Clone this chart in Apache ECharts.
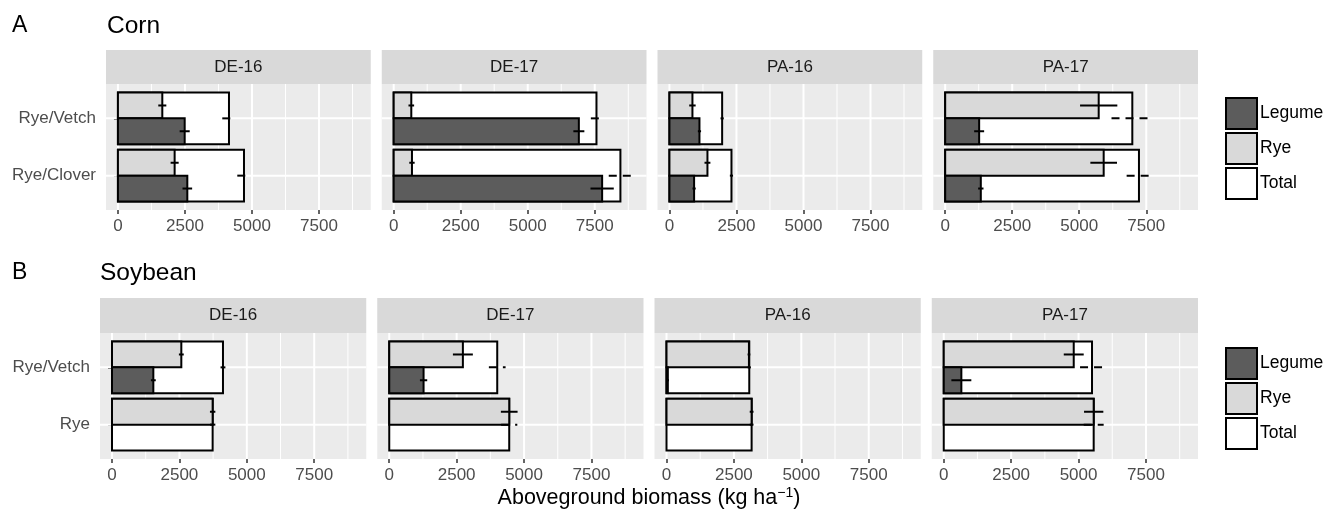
<!DOCTYPE html>
<html>
<head>
<meta charset="utf-8">
<script src="https://cdn.jsdelivr.net/npm/echarts@6/dist/echarts.min.js"></script>
<style>
  html, body { margin: 0; background: #fff; }
  #chart { width: 1325px; height: 517px; }
</style>
</head>
<body>
<div id="chart"></div>
<script>
// facet columns and the categories of each crop row
const sites = ['DE-16', 'DE-17', 'PA-16', 'PA-17'];
const cornCats = ['Rye/Vetch', 'Rye/Clover'];
const soyCats = ['Rye/Vetch', 'Rye'];

// biomass in kg/ha, one pair per site (first category, second category); *Se = error half-width
const cornRye = [[1655, 2115], [657, 682], [858, 1418], [5726, 5912]];
const cornRyeSe = [[150, 150], [105, 100], [120, 110], [695, 497]];
const cornLegume = [[2490, 2588], [6907, 7775], [1120, 920], [1267, 1329]];
const cornLegumeSe = [[187, 180], [205, 434], [60, 60], [186, 100]];
const cornTotal = [[4142, 4702], [7564, 8457], [1966, 2314], [6980, 7228]];
const cornTotalSe = [[250, 250], [210, 435], [60, 60], [776, 460]];

const soyRye = [[2571, 3733], [2731, 4450], [3058, 3157], [4821, 5561]];
const soyRyeSe = [[90, 100], [370, 310], [50, 70], [370, 358]];
const soyLegume = [[1533, 0], [1273, 0], [50, 0], [653, 0]];
const soyLegumeSe = [[90, 0], [135, 0], [40, 0], [370, 0]];
const soyTotal = [[4116, 3733], [4005, 4450], [3070, 3157], [5499, 5561]];
const soyTotalSe = [[90, 100], [310, 300], [60, 70], [444, 370]];

const xTicks = [0, 2500, 5000, 7500];
const xMinor = [1250, 3750, 6250, 8750];

const FONT = 'Liberation Sans, Arial, Helvetica, sans-serif';
const COLORS = { Legume: '#5C5C5C', Rye: '#D9D9D9', Total: '#FFFFFF' };

const rows = [
  { title: 'A', crop: 'Corn', cats: cornCats,
    rye: cornRye, ryeSe: cornRyeSe, legume: cornLegume, legumeSe: cornLegumeSe,
    total: cornTotal, totalSe: cornTotalSe,
    lefts: [106, 381.75, 657.5, 933.25], width: 264.75, stripTop: 50, top: 84, height: 126,
    titleY: 26, cropX: 107, legendTop: 97 },
  { title: 'B', crop: 'Soybean', cats: soyCats,
    rye: soyRye, ryeSe: soyRyeSe, legume: soyLegume, legumeSe: soyLegumeSe,
    total: soyTotal, totalSe: soyTotalSe,
    lefts: [100, 377.25, 654.5, 931.75], width: 266.25, stripTop: 298, top: 333, height: 126,
    titleY: 273, cropX: 100, legendTop: 347 },
];

function gridLines(params, api) {
  const cs = params.coordSys;
  const kind = api.value(2);
  if (kind === 2) {
    const y = api.coord([0, api.value(1)])[1];
    return { type: 'line', shape: { x1: cs.x, y1: y, x2: cs.x + cs.width, y2: y },
      style: { stroke: '#fff', lineWidth: 2 } };
  }
  const x = api.coord([api.value(0), 1])[0];
  return { type: 'line', shape: { x1: x, y1: cs.y, x2: x, y2: cs.y + cs.height },
    style: { stroke: '#fff', lineWidth: kind === 0 ? 2 : 1 } };
}

function barPart(part) {
  return (params, api) => {
    const c = api.value(1);
    const lo = part === 'bottom' ? c : c - 0.45;
    const hi = part === 'top' ? c : c + 0.45;
    const p0 = api.coord([0, lo]);
    const p1 = api.coord([api.value(0), hi]);
    return {
      type: 'rect',
      shape: { x: Math.min(p0[0], p1[0]), y: Math.min(p0[1], p1[1]),
        width: Math.abs(p1[0] - p0[0]), height: Math.abs(p1[1] - p0[1]) },
      style: { fill: api.visual('color'), stroke: '#000', lineWidth: 2 },
    };
  };
}

function errBar(params, api) {
  const mean = api.value(0), c = api.value(1), se = api.value(2), kind = api.value(3);
  const y = kind === 0 ? c - 0.225 : kind === 1 ? c + 0.225 : c;
  const a = api.coord([mean - se, y]);
  const b = api.coord([mean + se, y]);
  return {
    type: 'line',
    shape: { x1: a[0], y1: a[1], x2: b[0], y2: b[1] },
    style: { stroke: '#000', lineWidth: 2, lineDash: kind === 2 ? [8, 6] : null },
  };
}

const grid = [], xAxis = [], yAxis = [], series = [], graphic = [], legend = [];

rows.forEach((row, r) => {
  graphic.push({ type: 'text', x: 12, y: row.titleY,
    style: { text: row.title, font: '23px ' + FONT, fill: '#000', verticalAlign: 'middle' } });
  graphic.push({ type: 'text', x: row.cropX, y: row.titleY,
    style: { text: row.crop, font: '24.5px ' + FONT, fill: '#000', verticalAlign: 'middle' } });

  legend.push({
    data: ['Legume', 'Rye', 'Total'], orient: 'vertical', left: 1225, top: row.legendTop,
    itemWidth: 31, itemHeight: 31, itemGap: 2, padding: 0, icon: 'rect', selectedMode: false,
    itemStyle: { borderColor: '#000', borderWidth: 2 },
    textStyle: { fontSize: 17.5, color: '#000', fontFamily: FONT, padding: [0, 0, 0, -2] },
  });

  sites.forEach((site, s) => {
    const g = r * 4 + s;
    const left = row.lefts[s];
    grid.push({ left, top: row.top, width: row.width, height: row.height,
      show: true, backgroundColor: '#EBEBEB', borderWidth: 0 });

    graphic.push({ type: 'rect', shape: { x: left, y: row.stripTop, width: row.width, height: row.top - row.stripTop },
      style: { fill: '#D9D9D9' } });
    graphic.push({ type: 'text', x: left + row.width / 2, y: (row.stripTop + row.top) / 2,
      style: { text: site, font: '17px ' + FONT, fill: '#1A1A1A', align: 'center', verticalAlign: 'middle' } });

    xAxis.push({
      gridIndex: g, type: 'value', min: -445, max: 9430,
      axisLine: { show: false }, splitLine: { show: false },
      axisTick: { show: true, customValues: xTicks, length: 4, lineStyle: { color: '#333', width: 1.5 } },
      axisLabel: { customValues: xTicks, formatter: v => String(v), margin: 8,
        fontSize: 17, color: '#4D4D4D', fontFamily: FONT },
    });
    yAxis.push({
      gridIndex: g, type: 'value', inverse: true, min: 0.4, max: 2.6,
      axisLine: { show: false }, splitLine: { show: false },
      axisTick: { show: s === 0, customValues: [1, 2], length: 4, lineStyle: { color: '#333', width: 1.5 } },
      axisLabel: { show: s === 0, customValues: [1, 2], formatter: v => row.cats[v - 1] || '',
        margin: 10, fontSize: 17, color: '#4D4D4D', fontFamily: FONT },
    });

    const lines = xTicks.map(v => [v, 1, 0])
      .concat(xMinor.map(v => [v, 1, 1]))
      .concat(row.cats.map((_, i) => [0, i + 1, 2]));
    series.push({ type: 'custom', name: 'grid', xAxisIndex: g, yAxisIndex: g, z: 1, silent: true,
      renderItem: gridLines, data: lines });

    const total = row.cats.map((_, i) => [row.total[s][i], i + 1]);
    const rye = row.cats.map((_, i) => [row.rye[s][i], i + 1]);
    const legume = row.cats.map((_, i) => [row.legume[s][i], i + 1]).filter(d => d[0] > 0);
    [['Total', total, 'full'], ['Rye', rye, 'top'], ['Legume', legume, 'bottom']].forEach(([name, data, part]) => {
      series.push({ type: 'custom', name, xAxisIndex: g, yAxisIndex: g, z: 2, silent: true,
        itemStyle: { color: COLORS[name], borderColor: '#000', borderWidth: 2 },
        renderItem: barPart(part), data });
    });

    const errs = [];
    row.cats.forEach((_, i) => {
      errs.push([row.rye[s][i], i + 1, row.ryeSe[s][i], 0]);
      if (row.legume[s][i] > 0) errs.push([row.legume[s][i], i + 1, row.legumeSe[s][i], 1]);
      errs.push([row.total[s][i], i + 1, row.totalSe[s][i], 2]);
    });
    series.push({ type: 'custom', name: 'err', xAxisIndex: g, yAxisIndex: g, z: 3, silent: true,
      renderItem: errBar, data: errs });
  });
});

graphic.push({ type: 'text', x: 649, y: 498,
  style: { text: '{a|Aboveground biomass (kg ha}{s|\u22121}{a|)}', align: 'center', verticalAlign: 'middle',
    rich: { a: { fontSize: 21.5, fontFamily: FONT, fill: '#000' },
            s: { fontSize: 14, fontFamily: FONT, fill: '#000', padding: [0, 0, 10, 0] } } } });

const chart = echarts.init(document.getElementById('chart'), null, { renderer: 'canvas' });
chart.setOption({
  animation: false,
  backgroundColor: '#fff',
  grid, xAxis, yAxis, series, legend, graphic,
});
</script>
</body>
</html>
